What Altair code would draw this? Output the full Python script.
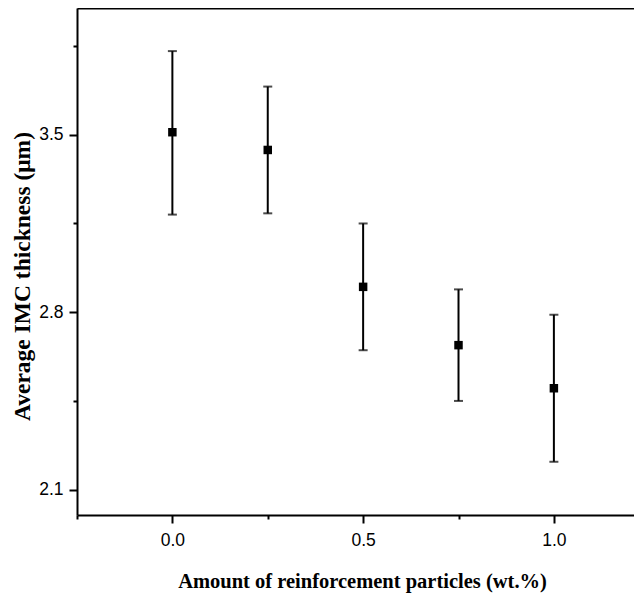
import altair as alt
import pandas as pd

# data
amount = [0.0, 0.25, 0.5, 0.75, 1.0]
mean_thk = [3.51, 3.44, 2.90, 2.67, 2.50]
upper_thk = [3.83, 3.69, 3.15, 2.89, 2.79]
lower_thk = [3.185, 3.19, 2.65, 2.45, 2.21]

x_major = [0.0, 0.5, 1.0]
x_minor = [-0.25, 0.25, 0.75]
x_top = [-0.1, 0.05, 0.2, 0.35, 0.5, 0.65, 0.8, 0.95, 1.1]
y_major = [2.1, 2.8, 3.5]
y_minor = [2.45, 3.15, 3.85]

df = pd.DataFrame({"x": amount, "m": mean_thk, "hi": upper_thk, "lo": lower_thk})

xs = alt.Scale(domain=[-0.25, 1.21], nice=False, zero=False)
ys = alt.Scale(domain=[2.0, 4.0], nice=False, zero=False)

LAB = "Liberation Sans"
TIT = "Liberation Serif"

x_major_axis = alt.Axis(
    values=x_major, format=".1f", orient="bottom", grid=False,
    tickSize=8, tickWidth=2, tickColor="black",
    domainWidth=2, domainColor="black",
    labelFont=LAB, labelFontSize=17.5, labelColor="black", labelPadding=8,
    title="Amount of reinforcement particles (wt.%)",
    titleFont=TIT, titleFontWeight="bold", titleFontSize=20.5, titleColor="black",
    titleX=285, titleY=72, titleAlign="center", titleBaseline="alphabetic",
)
y_major_axis = alt.Axis(
    values=y_major, format=".1f", orient="left", grid=False,
    tickSize=8, tickWidth=2, tickColor="black",
    domainWidth=2, domainColor="black",
    labelFont=LAB, labelFontSize=17.5, labelColor="black", labelPadding=6,
    title="Average IMC thickness (μm)",
    titleFont=TIT, titleFontWeight="bold", titleFontSize=23.5, titleColor="black",
    titleX=-55, titleY=268, titleAngle=-90, titleAlign="center", titleBaseline="middle",
)
x_minor_axis = alt.Axis(
    values=x_minor, orient="bottom", grid=False, labels=False, domain=False,
    tickSize=4, tickWidth=2, tickColor="black", title="",
)
y_minor_axis = alt.Axis(
    values=y_minor, orient="left", grid=False, labels=False, domain=False,
    tickSize=4, tickWidth=2, tickColor="black", title="",
)
x_top_axis = alt.Axis(
    values=x_top, orient="top", grid=False, labels=False,
    tickSize=2, tickWidth=1.5, tickColor="black",
    domainWidth=2, domainColor="black", title="",
)

base = alt.Chart(df)

bars = base.mark_rule(color="black", strokeWidth=2).encode(
    x=alt.X("x:Q", scale=xs, axis=x_major_axis),
    y=alt.Y("lo:Q", scale=ys, axis=y_major_axis),
    y2="hi:Q",
)
cap_hi = base.mark_tick(color="black", orient="horizontal", size=9, thickness=2).encode(
    x=alt.X("x:Q", scale=xs, axis=None),
    y=alt.Y("hi:Q", scale=ys, axis=None),
)
cap_lo = base.mark_tick(color="black", orient="horizontal", size=9, thickness=2).encode(
    x=alt.X("x:Q", scale=xs, axis=None),
    y=alt.Y("lo:Q", scale=ys, axis=None),
)
pts = base.mark_square(color="black", size=72, opacity=1).encode(
    x=alt.X("x:Q", scale=xs, axis=None),
    y=alt.Y("m:Q", scale=ys, axis=None),
)
minor = base.mark_point(opacity=0).encode(
    x=alt.X("x:Q", scale=xs, axis=x_minor_axis),
    y=alt.Y("m:Q", scale=ys, axis=y_minor_axis),
)
top = base.mark_point(opacity=0).encode(
    x=alt.X("x:Q", scale=xs, axis=x_top_axis),
    y=alt.Y("m:Q", scale=ys, axis=None),
)

chart = (
    alt.layer(bars, cap_hi, cap_lo, pts, minor, top)
    .resolve_axis(x="independent", y="independent")
    .properties(
        width=557, height=507,
        autosize=alt.AutoSizeParams(type="none"),
        padding={"left": 69, "top": 0, "right": 0, "bottom": 81},
        background="white",
    )
    .configure_view(stroke="transparent")
)

chart.save("out.html", embed_options={"renderer": "svg", "actions": False})
